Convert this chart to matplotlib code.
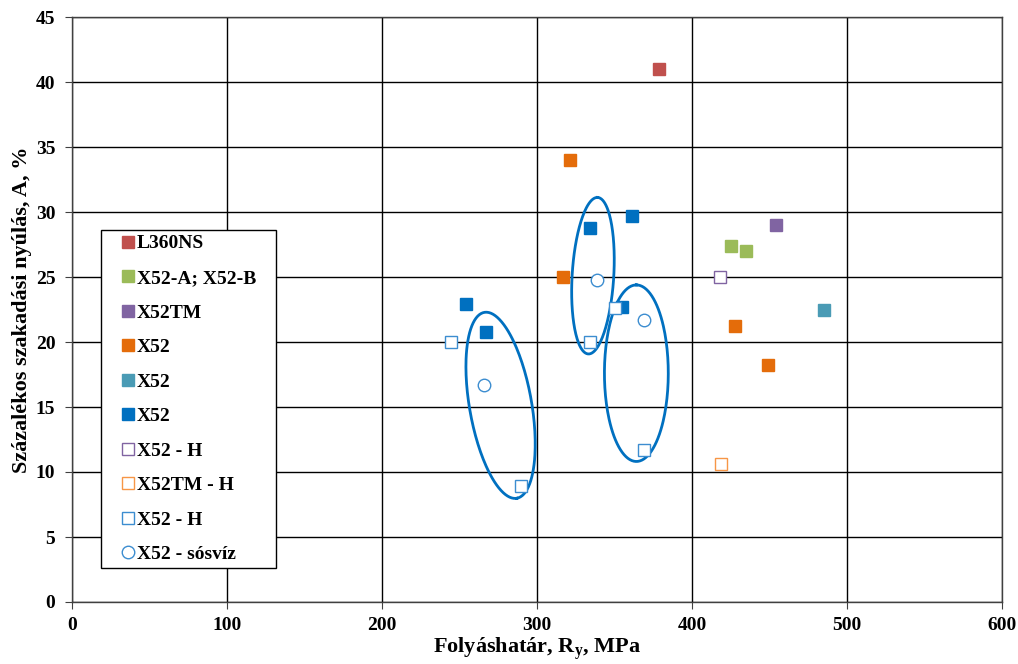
import numpy as np
import matplotlib
matplotlib.use('Agg')
import matplotlib.pyplot as plt

plt.rcParams['font.family'] = ['Liberation Serif', 'DejaVu Serif']
plt.rcParams['font.weight'] = 'bold'
plt.rcParams['mathtext.fontset'] = 'custom'
plt.rcParams['mathtext.rm'] = 'Liberation Serif:bold'
plt.rcParams['mathtext.it'] = 'Liberation Serif:bold'
plt.rcParams['mathtext.bf'] = 'Liberation Serif:bold'

# Data (x = yield strength MPa, y = elongation %)
l360ns_x = [379]
l360ns_y = [41.0]
x52ab_x = [425, 435]
x52ab_y = [27.4, 27.0]
x52tm_x = [454]
x52tm_y = [29.0]
x52_orange_x = [321, 317, 428, 449]
x52_orange_y = [34.0, 25.0, 21.25, 18.2]
x52_teal_x = [485]
x52_teal_y = [22.5]
x52_blue_x = [334, 361, 355, 254, 267]
x52_blue_y = [28.8, 29.7, 22.7, 22.9, 20.8]
x52h_purple_x = [418]
x52h_purple_y = [25.0]
x52tmh_x = [419]
x52tmh_y = [10.6]
x52h_blue_x = [244.5, 334, 350, 369, 289.5]
x52h_blue_y = [20.0, 20.0, 22.6, 11.7, 8.95]
saltwater_x = [266, 339, 369]
saltwater_y = [16.7, 24.8, 21.7]

# Highlight ellipses: centre, half major axis vector, half minor axis vector (data units)
ell_center = [(276.5, 15.13), (336.1, 25.1), (364.1, 17.6)]
ell_major = [(10.45, -7.15), (3.03, 6.02), (0.0, 6.79)]
ell_minor = [(19.76, 0.41), (13.4, -0.1), (20.6, 0.0)]

fig = plt.figure(figsize=(10.18, 6.64), dpi=100)
ax = fig.add_axes([72 / 1018, 62 / 664, 930 / 1018, 585 / 664])

ms = 8
ax.plot(l360ns_x, l360ns_y, 's', ms=ms, color='#C0504D', mec='#C0504D', ls='none', label='L360NS')
ax.plot(x52ab_x, x52ab_y, 's', ms=ms, color='#9BBB59', mec='#9BBB59', ls='none', label='X52-A; X52-B')
ax.plot(x52tm_x, x52tm_y, 's', ms=ms, color='#8064A2', mec='#8064A2', ls='none', label='X52TM')
ax.plot(x52_orange_x, x52_orange_y, 's', ms=ms, color='#E46C0A', mec='#E46C0A', ls='none', label='X52')
ax.plot(x52_teal_x, x52_teal_y, 's', ms=ms, color='#4A9BB5', mec='#4A9BB5', ls='none', label='X52')
ax.plot(x52_blue_x, x52_blue_y, 's', ms=ms, color='#0070C0', mec='#0070C0', ls='none', label='X52')
ax.plot(x52h_purple_x, x52h_purple_y, 's', ms=ms, mfc='white', mec='#8064A2', mew=1.0, ls='none', label='X52 - H')
ax.plot(x52tmh_x, x52tmh_y, 's', ms=ms, mfc='white', mec='#F79646', mew=1.0, ls='none', label='X52TM - H')
ax.plot(x52h_blue_x, x52h_blue_y, 's', ms=ms, mfc='white', mec='#3C8DD0', mew=1.0, ls='none', label='X52 - H')
ax.plot(saltwater_x, saltwater_y, 'o', ms=9, mfc='white', mec='#3C8DD0', mew=1.0, ls='none', label='X52 - sósvíz')

t = np.linspace(0, 2 * np.pi, 200)
for c, a, b in zip(ell_center, ell_major, ell_minor):
    ex = c[0] + np.cos(t) * a[0] + np.sin(t) * b[0]
    ey = c[1] + np.cos(t) * a[1] + np.sin(t) * b[1]
    ax.plot(ex, ey, color='#0070C0', lw=2.0, zorder=1.5)

ax.set_xlim(0, 600)
ax.set_ylim(0, 45)
ax.set_xticks(np.arange(0, 601, 100))
ax.set_yticks(np.arange(0, 46, 5))
ax.grid(True, color='black', lw=1.0)
ax.set_axisbelow(True)
for s in ax.spines.values():
    s.set_color('#404040')
    s.set_linewidth(1.0)
ax.tick_params(axis='both', direction='out', length=5, labelsize=14, color='#404040')
ax.tick_params(axis='y', pad=7)
ax.tick_params(axis='x', pad=6)
for lbl in ax.get_xticklabels() + ax.get_yticklabels():
    lbl.set_fontweight('bold')

ax.set_xlabel('Folyáshatár, R$_y$, MPa', fontsize=16, fontweight='bold', labelpad=1)
ax.set_ylabel('Százalékos szakadási nyúlás, A, %', fontsize=16, fontweight='bold', labelpad=3)

leg = ax.legend(loc='lower left', bbox_to_anchor=(0.031, 0.058, 175 / 930, 339 / 585),
                mode='expand', frameon=True, fancybox=False, edgecolor='black', framealpha=1,
                labelspacing=0.87, handletextpad=-0.67, handlelength=2.28,
                borderpad=0.25, borderaxespad=0, prop={'weight': 'bold', 'size': 14})
leg.get_frame().set_linewidth(1.0)

fig.savefig('out.png', dpi=100)
